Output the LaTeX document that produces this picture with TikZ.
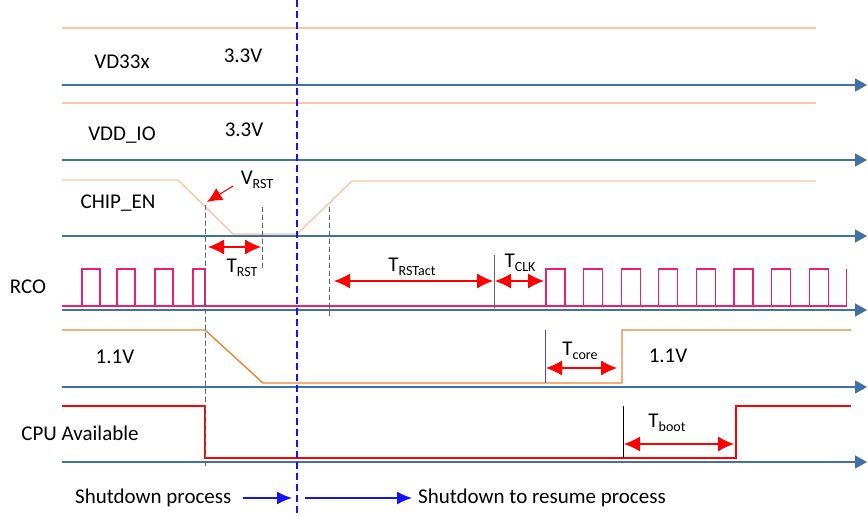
\documentclass[tikz,border=0pt]{standalone}
\usepackage{fontspec}
\setmainfont{Carlito}
\usetikzlibrary{arrows.meta}
\definecolor{axisblue}{RGB}{64,112,164}
\definecolor{lightorange}{RGB}{248,198,165}
\definecolor{coreorange}{RGB}{240,130,50}
\definecolor{clkpink}{RGB}{238,30,112}
\definecolor{guidegray}{RGB}{100,100,100}
\definecolor{pureblue}{RGB}{20,20,240}
\newcommand\lowsub[1]{\raisebox{-0.45ex}{\fontsize{14}{14}\selectfont #1}}

\begin{document}
\begin{tikzpicture}[x=1pt,y=-1pt,
  every node/.style={font=\fontsize{21}{24}\selectfont,inner sep=0pt},
  axis/.style={draw=axisblue,line width=1.5pt,-{Triangle[length=12pt,width=13pt]}},
  supply/.style={draw=lightorange,line width=1.4pt},
  core/.style={draw=coreorange,line width=1.4pt},
  clk/.style={draw=clkpink,line width=1.3pt},
  cpu/.style={draw=red,line width=1.4pt},
  dim/.style={draw=red,line width=1.1pt,{Latex[length=16pt,width=15pt]}-{Latex[length=16pt,width=15pt]}},
  guide/.style={draw=guidegray,dash pattern=on 5pt off 3pt,line width=0.9pt},
  phase/.style={draw=pureblue,line width=1.2pt,-{Latex[length=15pt,width=13pt]}}]
  \useasboundingbox (0,0) rectangle (868,516);
  % time axes
  \foreach \y in {85,160,236,310,387,462}{
    \coordinate (L) at (62,\y); \coordinate (R) at (867,\y);
    \draw[axis] (L)--(R);}
  % supplies
  \draw[supply] (62,28)--(816,28);
  \draw[supply] (62,103)--(816,103);
  \draw[supply] (62,180)--(178,180)--(233,234)--(297,234)--(352,181)--(816,181);
  % RCO clock
  \draw[clk] (62,306)--(846.8,306);
  \foreach \x in {82,117,155}{\draw[clk] (\x,306)--(\x,269)--(\x+18,269)--(\x+18,306);}
  \draw[clk] (193,306)--(193,269)--(205,269)--(205,306);
  \foreach \k in {0,...,7}{\draw[clk] (546+37.6*\k,306)--(546+37.6*\k,269)--(565+37.6*\k,269)--(565+37.6*\k,306);}
  \draw[clk] (846.8,306)--(846.8,269);
  % core and cpu
  \draw[core] (62,330)--(205,330)--(263,383)--(622,383)--(622,330)--(851,330);
  \draw[cpu] (62,406)--(205,406)--(205,458)--(736,458)--(736,406)--(851,406);
  % guides
  \draw[guide] (205,205)--(205,466);
  \draw[guide] (262,207)--(262,268);
  \draw[guide] (329,207)--(329,318);
  \draw[guidegray,line width=0.9pt] (494,255)--(494,308);
  \draw[blue!40!gray,line width=1pt] (545,330)--(545,383);
  \draw[black,line width=0.9pt] (623,406)--(623,458);
  \draw[pureblue,line width=1.5pt,dash pattern=on 7pt off 4pt] (297,0)--(297,516);
  % labels
  \node (vd33) at (122,62){VD33x};   \node (vd33v) at (243,56){3.3V};
  \node (vddio) at (122,135){VDD\_IO}; \node (vddiov) at (244,130){3.3V};
  \node (chipen) at (118,203){CHIP\_EN};
  \node (rco) at (28,287){RCO};
  \node (corel) at (115,357){1.1V};  \node (corer) at (668,356){1.1V};
  \node (cpua) at (80,433){CPU Available};
  \node (vrst) at (257,180){V\lowsub{RST}};
  \node (trst) at (242,268){T\lowsub{RST}};
  \node (trstact) at (412,267){T\lowsub{RSTact}};
  \node (tclk) at (520,263){T\lowsub{CLK}};
  \node (tcore) at (580,351){T\lowsub{core}};
  \node (tboot) at (667,423){T\lowsub{boot}};
  % timing arrows
  \coordinate (vp1) at (233,186); \coordinate (vp2) at (207,202);
  \draw[draw=red,line width=1.1pt,-{Latex[length=15pt,width=14pt]}] (vp1)--(vp2);
  \coordinate (r1) at (208,247); \coordinate (r2) at (261,247); \draw[dim] (r1)--(r2);
  \coordinate (a1) at (334,281); \coordinate (a2) at (493,281); \draw[dim] (a1)--(a2);
  \coordinate (c1) at (495,281); \coordinate (c2) at (544,281); \draw[dim] (c1)--(c2);
  \coordinate (k1) at (546,368); \coordinate (k2) at (617,368); \draw[dim] (k1)--(k2);
  \coordinate (b1) at (624,444); \coordinate (b2) at (734,444); \draw[dim] (b1)--(b2);
  % phases
  \node[anchor=west] (shut) at (75,498){Shutdown process};
  \node[anchor=west] (resume) at (418,498){Shutdown to resume process};
  \coordinate (p1) at (243,498); \coordinate (p2) at (292,498); \draw[phase] (p1)--(p2);
  \coordinate (p3) at (305,498); \coordinate (p4) at (412,498); \draw[phase] (p3)--(p4);
\end{tikzpicture}
\end{document}
